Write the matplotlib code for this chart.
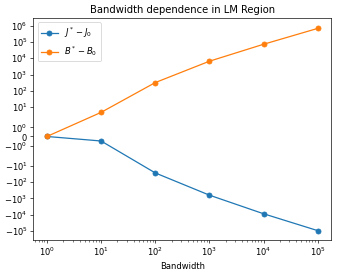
import numpy as np
import matplotlib
matplotlib.use("Agg")
import matplotlib.pyplot as plt

#%% data
bandwidth = [1, 10, 100, 1000, 10000, 100000]
delta_J = [0, -0.5, -27, -630, -8800, -96000]
delta_B = [0, 4.7, 320, 6600, 73000, 690000]

#%% plot
dpi = 60
fig = plt.figure(figsize=(337 / dpi, 273 / dpi), dpi=dpi)
ax = fig.add_axes([0.099, 0.121, 0.884, 0.813])
ax.set_xscale("log")
ax.set_yscale("symlog", linthresh=2)
ax.plot(bandwidth, delta_J, marker="o", label=r"$J^* - J_0$")
ax.plot(bandwidth, delta_B, marker="o", label=r"$B^* - B_0$")
ax.set_ylim(-3.6e5, 3.0e6)
ax.set_xlabel("Bandwidth")
ax.set_title("Bandwidth dependence in LM Region")
ax.legend(loc="upper left")
fig.savefig("out.png", dpi=dpi)
